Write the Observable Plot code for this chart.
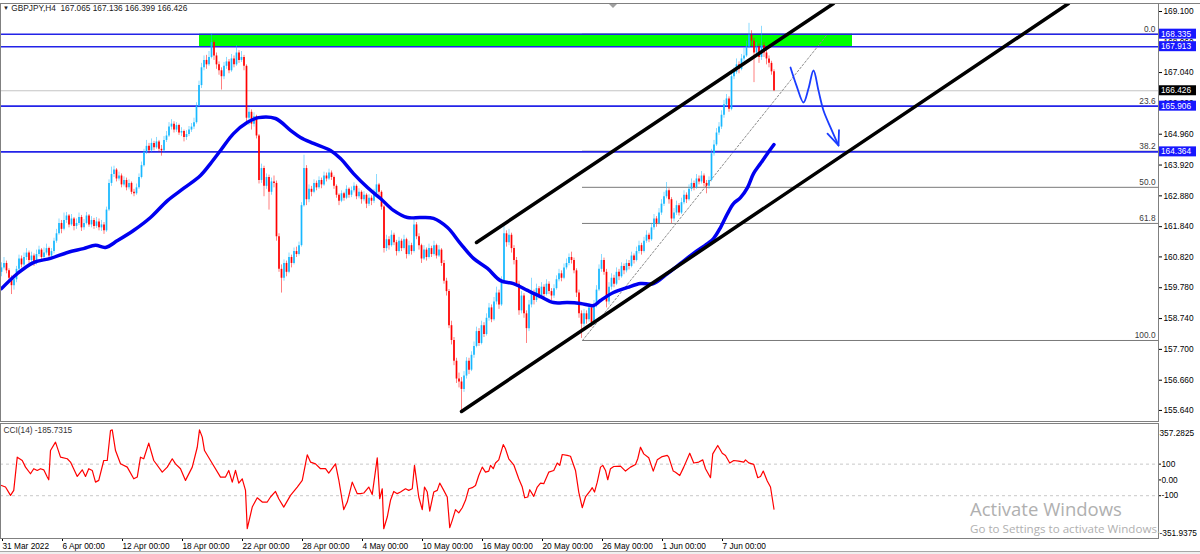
<!DOCTYPE html>
<html><head><meta charset="utf-8">
<script src="https://cdn.jsdelivr.net/npm/d3@7"></script>
<script src="https://cdn.jsdelivr.net/npm/@observablehq/plot@0.6"></script>
<style>
html,body{margin:0;padding:0;background:#fff;}
#wrap{position:relative;width:1200px;height:554px;overflow:hidden;font-family:"Liberation Sans",Arial,sans-serif;}
#wrap svg{display:block;}
.abs{position:absolute;white-space:nowrap;}
</style></head><body><div id="wrap"></div>
<script>
// ---------- DATA ----------
const symbolHeader = "GBPJPY,H4  167.065 167.136 166.399 166.426";
const opens = [
160.30,160.45,160.60,160.35,160.10,159.85,160.05,160.40,160.75,160.55,
160.80,160.95,160.70,160.85,160.60,160.90,161.05,160.80,160.95,161.10,
160.85,161.00,161.35,161.60,161.95,161.75,162.05,162.20,161.90,162.10,
161.85,161.95,162.15,161.80,161.95,162.20,161.90,162.05,161.85,162.00,
161.80,161.90,161.70,162.40,163.30,163.60,163.75,163.45,163.55,163.25,
163.40,163.15,163.30,163.00,162.95,163.15,163.50,163.90,164.35,164.55,
164.40,164.65,164.50,164.70,164.45,164.40,164.75,164.90,165.20,165.30,
165.10,165.25,165.00,165.05,164.85,164.95,165.10,165.20,165.35,165.90,
166.60,167.20,167.45,167.30,167.55,168.05,167.60,167.30,167.10,166.90,
167.25,167.40,167.10,167.50,167.30,167.70,167.45,167.55,167.25,165.50,
165.70,165.30,165.55,164.90,163.40,163.80,163.20,163.50,163.00,163.35,
163.30,161.50,160.40,160.10,160.60,160.30,160.80,160.60,161.00,160.90,
161.20,162.55,163.80,162.75,163.10,163.00,163.30,163.15,163.40,163.25,
163.55,163.45,163.65,163.50,163.20,162.90,162.70,162.95,162.80,163.10,
162.90,163.05,163.20,162.85,163.00,162.75,162.90,162.60,162.80,162.70,
162.95,163.25,163.00,162.50,161.10,161.40,161.20,161.55,161.30,161.00,
161.35,161.10,161.40,160.90,161.20,161.00,161.90,161.50,161.20,160.75,
161.05,160.80,161.10,160.90,161.20,160.85,161.05,160.60,160.00,159.65,
158.50,158.00,157.30,156.70,156.60,156.35,156.80,157.30,157.00,157.50,
157.80,158.30,157.90,158.50,158.20,158.75,159.10,158.70,159.30,159.60,
159.20,160.00,161.60,161.30,161.55,161.10,160.70,159.90,159.00,159.50,
158.90,158.40,159.20,159.60,159.35,159.75,159.50,159.80,159.55,159.90,
159.65,159.50,159.75,160.05,160.25,160.10,160.45,160.60,160.80,160.70,
160.35,159.60,158.90,158.55,158.90,158.70,159.10,158.60,159.20,159.70,
160.40,160.70,160.30,159.30,159.80,160.10,159.90,160.30,160.15,160.50,
160.35,160.60,160.50,160.85,160.70,161.00,161.20,161.00,161.35,161.55,
161.40,161.80,162.10,161.95,162.30,162.60,162.85,163.05,162.75,162.10,
162.30,162.55,162.30,162.65,162.90,162.75,163.10,163.30,163.15,163.45,
163.35,163.55,163.30,163.20,163.40,164.30,164.60,165.00,165.20,165.60,
165.95,166.15,165.80,166.90,167.05,167.30,167.15,167.50,167.60,167.90,
168.30,168.10,167.70,167.90,167.55,167.95,167.70,167.50,167.35,167.065];
const highs = [
160.62,160.80,160.68,160.42,160.18,160.15,160.50,160.88,160.85,160.95,
161.10,161.02,160.98,160.92,161.05,161.18,161.10,161.12,161.25,161.15,
161.10,161.45,161.75,162.10,162.05,162.30,162.32,162.25,162.25,162.15,
162.10,162.30,162.22,162.08,162.32,162.25,162.18,162.12,162.15,162.10,
162.05,161.98,162.50,163.42,163.85,163.88,163.80,163.68,163.62,163.52,
163.48,163.42,163.35,163.10,163.28,163.62,164.02,164.45,164.75,164.65,
164.80,164.72,164.85,164.75,164.58,164.88,165.05,165.35,165.45,165.38,
165.35,165.30,165.18,165.10,165.08,165.22,165.32,165.50,166.02,166.75,
167.35,167.60,167.62,167.75,168.35,168.12,167.70,167.40,167.20,167.38,
167.55,167.48,167.65,167.60,167.95,167.78,167.75,167.62,167.30,165.85,
165.78,165.68,165.60,164.95,163.95,163.88,163.62,163.58,163.48,163.55,
163.38,161.60,160.55,160.72,160.68,160.95,160.88,161.12,161.15,161.32,
162.65,164.25,163.90,163.25,163.20,163.42,163.38,163.52,163.48,163.68,
163.65,163.78,163.72,163.55,163.25,162.95,163.05,163.00,163.22,163.15,
163.18,163.32,163.25,163.12,163.05,163.02,162.95,162.92,162.88,163.10,
163.60,163.30,163.05,162.55,161.55,161.50,161.70,161.62,161.38,161.48,
161.42,161.55,161.45,161.35,161.28,162.15,161.98,161.60,161.25,161.20,
161.12,161.25,161.18,161.35,161.25,161.20,161.10,160.70,160.10,159.72,
158.65,158.10,157.40,156.90,156.75,156.95,157.42,157.40,157.62,157.95,
158.45,158.40,158.65,158.60,158.90,159.25,159.20,159.45,159.80,159.70,
160.15,161.85,161.70,161.75,161.62,161.20,160.80,160.00,159.65,159.58,
159.00,159.35,160.10,159.70,159.90,159.82,159.95,159.88,160.05,159.98,
159.75,159.88,160.18,160.40,160.35,160.58,160.75,160.92,160.98,160.78,
160.42,159.70,159.00,159.05,159.00,159.25,159.18,159.35,159.85,160.55,
160.90,160.78,160.40,159.95,160.25,160.20,160.45,160.40,160.62,160.58,
160.72,160.70,160.98,160.92,161.15,161.35,161.28,161.48,161.70,161.62,
161.95,162.25,162.18,162.45,162.75,163.00,163.33,163.12,162.82,162.45,
162.70,162.62,162.80,163.05,162.98,163.25,163.45,163.38,163.60,163.55,
163.70,163.62,163.40,163.52,164.45,164.75,165.15,165.35,165.75,166.10,
166.30,166.22,167.05,167.20,167.50,167.40,167.65,167.85,168.10,168.70,
168.45,168.20,168.05,168.00,168.60,168.05,167.80,167.60,167.42,167.136];
const lows = [
160.15,160.38,160.25,159.95,159.55,159.70,159.95,160.32,160.45,160.48,
160.70,160.60,160.62,160.50,160.55,160.82,160.72,160.75,160.88,160.78,
160.80,160.92,161.28,161.55,161.60,161.70,161.95,161.80,161.85,161.70,
161.75,161.88,161.68,161.72,161.90,161.82,161.80,161.75,161.78,161.70,
161.68,161.58,161.65,162.35,163.20,163.50,163.35,163.38,163.15,163.18,
163.05,163.08,162.92,162.85,162.90,163.10,163.45,163.85,164.28,164.30,
164.35,164.40,164.45,164.35,164.22,164.35,164.68,164.85,165.10,165.00,
165.02,164.92,164.88,164.70,164.75,164.88,165.02,165.12,165.30,165.85,
166.50,167.10,167.15,167.25,167.50,167.45,167.15,166.95,166.45,166.80,
167.15,167.00,167.05,167.20,167.25,167.35,167.38,167.10,165.35,165.25,
165.10,165.20,164.80,163.28,163.30,162.85,163.10,162.40,162.90,163.15,
161.35,160.30,159.60,160.00,160.15,160.25,160.45,160.55,160.80,160.85,
161.15,162.50,162.55,162.65,162.85,162.95,163.05,163.10,163.12,163.20,
163.35,163.40,163.40,163.10,162.80,162.55,162.65,162.70,162.75,162.80,
162.82,162.98,162.75,162.78,162.60,162.68,162.45,162.52,162.55,162.62,
162.90,162.85,162.40,160.95,161.00,161.05,161.15,161.20,160.85,160.95,
161.00,161.05,160.75,160.85,160.88,160.95,161.40,161.05,160.60,160.70,
160.68,160.75,160.80,160.85,160.75,160.80,160.50,159.90,159.50,158.40,
157.85,157.15,156.55,156.40,155.64,156.25,156.70,156.85,156.95,157.40,
157.75,157.80,157.85,158.10,158.15,158.65,158.60,158.65,159.20,159.05,
159.15,159.95,161.15,161.20,160.95,160.55,159.80,158.85,158.90,158.75,
157.90,158.30,159.10,159.20,159.28,159.40,159.42,159.45,159.50,159.55,
159.35,159.42,159.70,159.98,159.98,160.05,160.38,160.52,160.58,160.25,
159.45,158.75,158.07,158.45,158.55,158.62,158.45,158.50,159.10,159.65,
160.30,160.20,159.10,159.20,159.70,159.78,159.85,160.02,160.10,160.22,
160.28,160.38,160.45,160.58,160.65,160.92,160.88,160.95,161.28,161.30,
161.35,161.72,161.82,161.90,162.22,162.52,162.78,162.60,161.95,162.00,
162.22,162.20,162.25,162.58,162.62,162.70,163.02,163.05,163.10,163.25,
163.28,163.18,162.95,163.10,163.35,164.22,164.55,164.92,165.12,165.50,
165.88,165.70,165.75,166.80,166.98,167.00,167.10,167.40,167.55,167.85,
167.90,166.70,167.55,167.35,167.45,167.55,167.30,167.20,166.95,166.399];
const closes = [
160.45,160.60,160.35,160.10,159.85,160.05,160.40,160.75,160.55,160.80,
160.95,160.70,160.85,160.60,160.90,161.05,160.80,160.95,161.10,160.85,
161.00,161.35,161.60,161.95,161.75,162.05,162.20,161.90,162.10,161.85,
161.95,162.15,161.80,161.95,162.20,161.90,162.05,161.85,162.00,161.80,
161.90,161.70,162.40,163.30,163.60,163.75,163.45,163.55,163.25,163.40,
163.15,163.30,163.00,162.95,163.15,163.50,163.90,164.35,164.55,164.40,
164.65,164.50,164.70,164.45,164.40,164.75,164.90,165.20,165.30,165.10,
165.25,165.00,165.05,164.85,164.95,165.10,165.20,165.35,165.90,166.60,
167.20,167.45,167.30,167.55,168.05,167.60,167.30,167.10,166.90,167.25,
167.40,167.10,167.50,167.30,167.70,167.45,167.55,167.25,165.50,165.70,
165.30,165.55,164.90,163.40,163.80,163.20,163.50,163.00,163.35,163.30,
161.50,160.40,160.10,160.60,160.30,160.80,160.60,161.00,160.90,161.20,
162.55,163.80,162.75,163.10,163.00,163.30,163.15,163.40,163.25,163.55,
163.45,163.65,163.50,163.20,162.90,162.70,162.95,162.80,163.10,162.90,
163.05,163.20,162.85,163.00,162.75,162.90,162.60,162.80,162.70,162.95,
163.25,163.00,162.50,161.10,161.40,161.20,161.55,161.30,161.00,161.35,
161.10,161.40,160.90,161.20,161.00,161.90,161.50,161.20,160.75,161.05,
160.80,161.10,160.90,161.20,160.85,161.05,160.60,160.00,159.65,158.50,
158.00,157.30,156.70,156.60,156.35,156.80,157.30,157.00,157.50,157.80,
158.30,157.90,158.50,158.20,158.75,159.10,158.70,159.30,159.60,159.20,
160.00,161.60,161.30,161.55,161.10,160.70,159.90,159.00,159.50,158.90,
158.40,159.20,159.60,159.35,159.75,159.50,159.80,159.55,159.90,159.65,
159.50,159.75,160.05,160.25,160.10,160.45,160.60,160.80,160.70,160.35,
159.60,158.90,158.55,158.90,158.70,159.10,158.60,159.20,159.70,160.40,
160.70,160.30,159.30,159.80,160.10,159.90,160.30,160.15,160.50,160.35,
160.60,160.50,160.85,160.70,161.00,161.20,161.00,161.35,161.55,161.40,
161.80,162.10,161.95,162.30,162.60,162.85,163.05,162.75,162.10,162.30,
162.55,162.30,162.65,162.90,162.75,163.10,163.30,163.15,163.45,163.35,
163.55,163.30,163.20,163.40,164.30,164.60,165.00,165.20,165.60,165.95,
166.15,165.80,166.90,167.05,167.30,167.15,167.50,167.60,167.90,168.30,
168.10,167.70,167.90,167.55,167.95,167.70,167.50,167.35,167.065,166.426];

// moving average (read at points along the thick blue line); x = bar index
const maIdx = [0,6.4,12.8,19.6,26.4,32.8,37.6,41.6,46.4,52.8,59.6,66.4,72.8,79.6,83.6,87.6,92.8,98.4,102.8,109.6,115.6,119.6,124.8,131.6,135.6,140.8,146.4,151.6,156.8,162.4,167.6,172.8,178.4,183.6,188.8,194.4,199.6,204.8,210.4,215.6,220.8,226.4,231.6,236.8,239.6,244.8,250.4,255.6,260.8,266.4,271.6,276.8,282.4,284.8,287.6,290.4,292.8,295.6,298.4,300.8,303.6,306.4,309];
const maVal = [159.75,160.26,160.63,160.77,160.97,161.10,161.21,161.14,161.37,161.71,162.15,162.72,163.13,163.57,163.97,164.41,164.98,165.36,165.52,165.49,165.09,164.85,164.65,164.41,164.14,163.63,163.16,162.79,162.39,162.15,162.15,162.12,161.81,161.27,160.77,160.43,160.02,159.92,159.69,159.48,159.28,159.28,159.25,159.18,159.35,159.62,159.79,159.92,159.92,160.26,160.60,160.94,161.27,161.44,161.81,162.28,162.62,162.82,163.16,163.63,163.97,164.31,164.61];

// CCI(14) vertices
const cciIdx = [0,1.6,3.6,4.9,6.3,8.3,9.6,11.6,12.9,14.3,15.6,16.9,18.3,18.9,19.6,21.6,23.6,26.3,27.6,30.3,32.3,33.6,34.9,36.3,37.6,38.9,40.9,42.3,43.6,44.3,45.6,47.6,50.3,52.9,54.3,55.6,56.9,58.9,60.9,64.3,66.3,68.3,69.6,71.6,73.6,76.3,78.3,79.2,80.3,81.2,83.6,87.6,89.6,90.9,92.3,93.6,94.9,96.3,97.6,98.3,100.3,102.3,104.3,106.3,107.6,109.6,110.9,112.9,115.6,118.3,120.3,122.3,123.6,125.6,127.6,129.6,130.9,133.6,134.9,136.9,138.3,140.3,142.3,143.6,144.9,146.9,148.3,150.3,151.3,152.3,152.9,154.3,155.6,156.9,158.3,159.6,
161.6,162.9,164.3,165.2,166.9,168.3,169.2,170.3,171.3,172.9,174.3,175.3,176.9,178.3,179.3,180.3,181.6,182.9,184.3,185.6,186.9,188.3,189.6,190.9,192.3,193.6,194.9,195.6,196.7,197.6,198.9,199.6,200.7,201.6,202.9,204.9,206.9,208.3,209.3,210.5,211.3,212.9,214.3,215.6,216.9,218.9,220.9,222.3,223.3,224.3,226.3,227.6,229.6,230.9,232.3,233.6,235.6,236.3,237.2,238.3,239.6,240.5,241.6,242.5,243.6,244.9,247.6,249.6,251.6,253.6,254.5,255.6,256.9,258.9,260.7,262.3,264.3,266.3,266.9,268.7,269.6,271.3,272.9,275.3,276.9,278.9,280.5,281.6,283.6,284.5,286.5,288.3,289.6,291.3,292.9,294.9,296.9,297.6,298.9,300.9,302.5,303.6,304.7,306.3,307.6,309];
const cciVal = [-35,-45,-98,-66,144,123,81,39,71,60,71,64,18,1,186,239,144,134,113,22,64,22,71,60,-14,-3,123,123,313,317,186,102,81,7,18,144,134,233,123,49,81,134,102,71,-3,81,207,317,271,186,123,18,18,60,-14,60,-20,7,-66,-309,-172,-113,-140,-140,-108,-73,-119,-172,-98,-45,-3,159,113,102,71,71,43,102,1,-188,-140,-14,-87,-87,-83,-45,-92,140,-119,-56,-309,-235,-129,-73,-87,-77,
-56,-66,-56,92,-108,-188,-45,-77,-197,-77,-66,-20,-66,-108,-302,-256,-188,-209,-176,-129,-56,-49,-35,28,81,49,56,92,71,107,127,165,224,197,134,96,7,-45,-113,-108,-62,-104,-45,-20,-24,49,60,107,92,161,155,150,60,-77,-176,-108,-66,-49,-77,-14,81,92,60,1,71,85,87,56,81,98,134,207,165,140,56,127,148,155,144,56,49,28,81,169,107,113,127,71,14,165,218,169,155,107,123,119,113,127,108,98,14,22,56,-7,-45,-185.7315];
const cciName = "CCI(14) -185.7315";
const cciAxisTicks = [100, 0, -100];
const cciLevels = [100, -100];
const cciMax = 357.2825, cciMin = -351.9375;

const priceTicks = [169.100,168.060,167.040,166.000,164.960,163.920,162.880,161.840,160.820,159.780,158.740,157.700,156.660,155.640];
const timeTickIdx = [0,24,48,72,96,120,144,168,192,216,240,264,288];
const timeTickLabels = ["31 Mar 2022","6 Apr 00:00","12 Apr 00:00","18 Apr 00:00","22 Apr 00:00","28 Apr 00:00","4 May 00:00","10 May 00:00","16 May 00:00","20 May 00:00","26 May 00:00","1 Jun 00:00","7 Jun 00:00"];

const blueLevels = [168.335, 167.913, 165.906, 164.364];
const bidPrice = 166.426;
const zoneIdx = [79.2, 340.4];          // green rectangle time span (bar index)
const zonePrice = [167.913, 168.335];
const fibLabels = ["0.0","23.6","38.2","50.0","61.8","100.0"];
const fibPrices = [168.335, 165.896, 164.387, 163.168, 161.950, 158.000];
const fibStartIdx = 232.4, fibEndIdx = 330.4;
const upperChannelIdx = [190, 332.8], upperChannelVal = [161.306, 169.37];
const lowerChannelIdx = [184, 426.8], lowerChannelVal = [155.605, 169.37];
const arrowIdx = [315.6, 318, 320.8, 322.8, 324.8, 326.8, 328.8, 331.6, 334.8];
const arrowVal = [167.21, 166.60, 166.03, 166.50, 167.11, 166.43, 165.76, 165.19, 164.58];
const arrowHeadIdx = [330.4, 334.8, 335.0];
const arrowHeadVal = [164.98, 164.58, 165.10];

// ---------- BUILD ----------
const xDomain = [-0.4, 462.8];
const bars = closes.map((c, i) => ({i, o: opens[i], h: highs[i], l: lows[i], c}));
const BULL = "#17b8ff", BEAR = "#ff0000";
const colorOf = d => d.c >= d.o ? BULL : BEAR;
const ma = maIdx.map((i, k) => ({i, v: maVal[k]}));
const cci = cciIdx.map((i, k) => ({i, v: cciVal[k]}));
const upper = upperChannelIdx.map((i, k) => ({i, v: upperChannelVal[k]}));
const lower = lowerChannelIdx.map((i, k) => ({i, v: lowerChannelVal[k]}));
const arrow = arrowIdx.map((i, k) => ({i, v: arrowVal[k]}));
const arrowHead = arrowHeadIdx.map((i, k) => ({i, v: arrowHeadVal[k]}));
const fib = fibPrices.map((v, k) => ({v, t: fibLabels[k]}));
const fibDiag = [{i: fibStartIdx, v: fibPrices[5]}, {i: fibEndIdx, v: fibPrices[0]}];
const labelMap = new Map(timeTickIdx.map((d, k) => [d, timeTickLabels[k]]));
const FONT = "'Liberation Sans', Arial, sans-serif";
const style = {background: "transparent", fontFamily: FONT, fontSize: "8.3px", color: "#000", overflow: "visible"};

const main = Plot.plot({
  width: 1200, height: 422,
  marginTop: 3, marginBottom: 1, marginLeft: 0, marginRight: 42,
  x: {domain: xDomain, axis: null},
  y: {domain: [155.267, 169.37]},
  style,
  marks: [
    Plot.rect([0], {x1: zoneIdx[0], x2: zoneIdx[1], y1: zonePrice[0], y2: zonePrice[1], fill: "#00ff00"}),
    Plot.ruleY([bidPrice], {stroke: "#c4c4c4", strokeWidth: 1}),
    Plot.ruleY(fibPrices, {x1: fibStartIdx, x2: xDomain[1], stroke: "#7a7a7a", strokeWidth: 1}),
    Plot.line(fibDiag, {x: "i", y: "v", stroke: "#8c8c8c", strokeWidth: 1, strokeDasharray: "2,2"}),
    Plot.ruleY(blueLevels, {stroke: "#2323e8", strokeWidth: 1.6}),
    Plot.ruleX(bars, {x: "i", y1: "l", y2: "h", stroke: colorOf, strokeWidth: 1, strokeOpacity: 0.5}),
    Plot.ruleX(bars, {x: "i", y1: "o", y2: "c", stroke: colorOf, strokeWidth: 1.7}),
    Plot.line(ma, {x: "i", y: "v", stroke: "#0000f0", strokeWidth: 3.5, curve: "catmull-rom"}),
    Plot.line(upper, {x: "i", y: "v", stroke: "#000", strokeWidth: 3.5, clip: true}),
    Plot.line(lower, {x: "i", y: "v", stroke: "#000", strokeWidth: 3.5, clip: true}),
    Plot.line(arrow, {x: "i", y: "v", stroke: "#1a3cff", strokeWidth: 1.8, curve: "catmull-rom"}),
    Plot.line(arrowHead, {x: "i", y: "v", stroke: "#1a3cff", strokeWidth: 1.8}),
    Plot.text(fib, {x: xDomain[1], y: "v", text: "t", textAnchor: "end", dx: -3, dy: -5, fill: "#3a3a3a"}),
    Plot.axisY(priceTicks, {anchor: "right", tickSize: 3, tickPadding: 2, tickFormat: d => d.toFixed(3), label: null}),
    Plot.frame({stroke: "#808080"})
  ]
});

// price boxes on the right scale, positioned through the plot's own y scale
const yS = main.scale("y");
const gBox = d3.select(main).append("g").attr("font-family", FONT).attr("font-size", "8.3px").attr("text-anchor", "start");
const boxes = blueLevels.map(v => ({v, bg: "#1717ff"})).concat([{v: bidPrice, bg: "#000"}]);
boxes.forEach(b => {
  const yy = yS.apply(b.v);
  gBox.append("rect").attr("x", 1159).attr("y", yy - 5).attr("width", 37).attr("height", 10).attr("fill", b.bg);
  gBox.append("text").attr("x", 1161).attr("y", yy).attr("dy", "0.35em").attr("text-anchor", "start").attr("fill", "#fff").text(b.v.toFixed(3));
});
// chart-shift marker
d3.select(main).append("path").attr("d", "M609,4 L617,4 L613,8 Z").attr("fill", "#a0a0a0");

const cciPlot = Plot.plot({
  width: 1200, height: 132,
  marginTop: 1, marginBottom: 16, marginLeft: 0, marginRight: 42,
  x: {domain: xDomain},
  y: {domain: [cciMin, cciMax], range: [113, 1]},
  style,
  marks: [
    Plot.ruleY(cciLevels, {stroke: "#c8c8c8", strokeDasharray: "3,3"}),
    Plot.line(cci, {x: "i", y: "v", stroke: "#ff0000", strokeWidth: 1.2}),
    Plot.axisY(cciAxisTicks, {anchor: "right", tickSize: 2, tickPadding: 1, tickFormat: d => d === 0 ? "0.00" : String(d), label: null}),
    Plot.text([cciMax], {frameAnchor: "top-right", dx: 1, dy: 10, textAnchor: "start", lineAnchor: "middle", text: d => String(d)}),
    Plot.text([cciMin], {frameAnchor: "bottom-right", dx: 1, dy: -5, textAnchor: "start", lineAnchor: "middle", text: d => String(d)}),
    Plot.text([cciName], {frameAnchor: "top-left", dx: 3, dy: 7, textAnchor: "start", lineAnchor: "middle", fill: "#333"}),
    Plot.axisX(timeTickIdx, {anchor: "bottom", tickSize: 3, tickPadding: 2, textAnchor: "start", dx: 1, tickFormat: d => labelMap.get(d), label: null}),
    Plot.frame({stroke: "#808080"})
  ]
});

const wrap = document.getElementById("wrap");
wrap.appendChild(main);
wrap.appendChild(cciPlot);

function addDiv(html, css) { const d = document.createElement("div"); d.className = "abs"; d.innerHTML = html; Object.assign(d.style, css); wrap.appendChild(d); return d; }
addDiv("", {left: "1158px", top: "3px", width: "42px", height: "0", borderTop: "1px solid #808080"});
addDiv('<span style="font-size:6px;vertical-align:1px">&#9660;</span> ' + symbolHeader.replace(/ /g, "&nbsp;"), {left: "3px", top: "3px", fontSize: "8.3px", lineHeight: "10px", color: "#202020", fontFamily: FONT});
addDiv("", {left: "0", top: "551px", width: "1200px", height: "3px", background: "#f0f0f0", borderTop: "1px solid #a8a8a8"});
addDiv("Activate Windows", {left: "970px", top: "499px", fontSize: "18.5px", lineHeight: "20px", color: "#b0b0b0", fontFamily: "'Open Sans','Noto Sans',sans-serif"});
addDiv("Go to Settings to activate Windows.", {left: "970px", top: "522px", fontSize: "11.6px", lineHeight: "14px", color: "#b0b0b0", fontFamily: "'Open Sans','Noto Sans',sans-serif"});
</script></body></html>
